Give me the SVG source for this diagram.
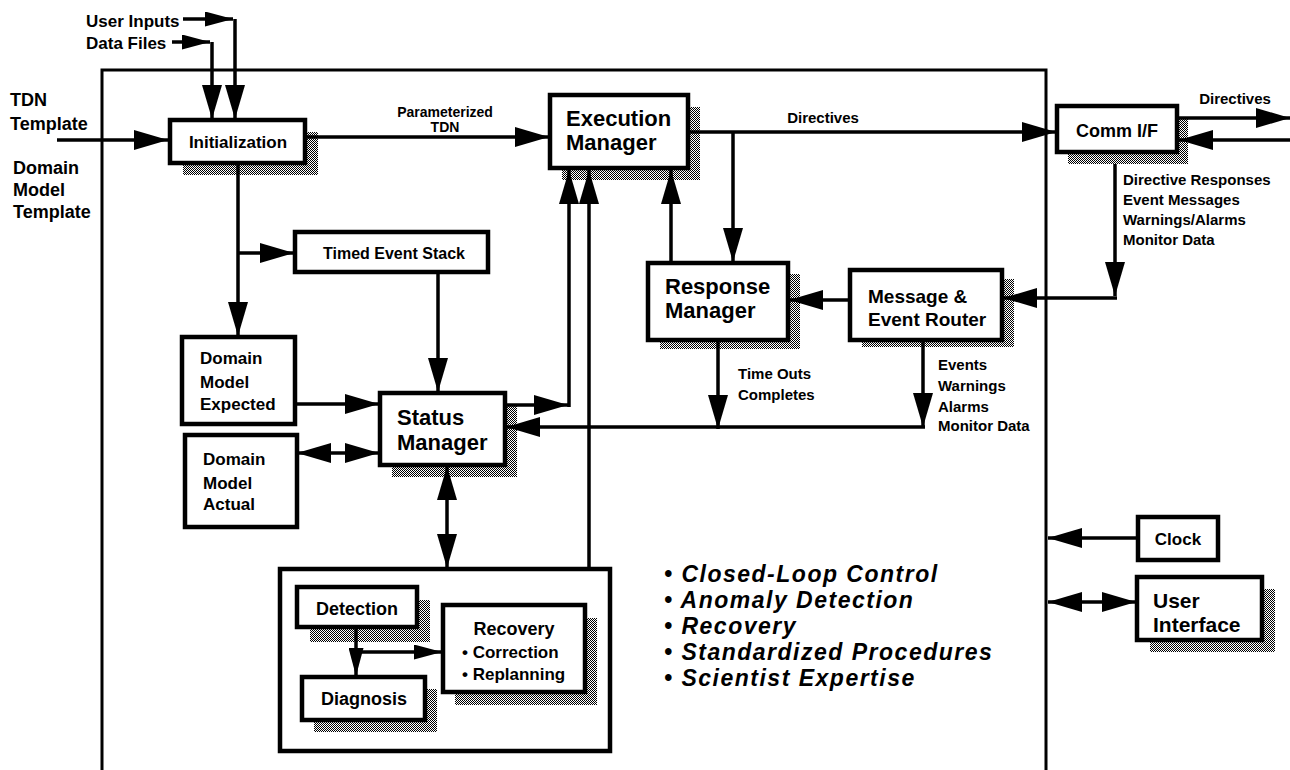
<svg xmlns="http://www.w3.org/2000/svg" width="1290" height="770" viewBox="0 0 1290 770">
<defs>
<pattern id="dots" width="2" height="2" patternUnits="userSpaceOnUse"><rect width="2" height="2" fill="#fff"/><rect width="1" height="1" fill="#000"/><rect x="1" y="1" width="1" height="1" fill="#000"/></pattern>
<marker id="a" viewBox="0 0 34 20" markerWidth="34" markerHeight="20" refX="34" refY="10" orient="auto-start-reverse" markerUnits="userSpaceOnUse"><path d="M0,0 L34,10 L0,20 z" fill="#000"/></marker>
<marker id="s" viewBox="0 0 28 15" markerWidth="28" markerHeight="15" refX="28" refY="7.5" orient="auto-start-reverse" markerUnits="userSpaceOnUse"><path d="M0,0 L28,7.5 L0,15 z" fill="#000"/></marker>
<style>
.box{fill:#fff;stroke:#000;stroke-width:4.5}
.sh{fill:url(#dots)}
.ln{fill:none;stroke:#000;stroke-width:3.5}
.ar{marker-end:url(#a)}
.ars{marker-end:url(#s)}
.dbl{marker-start:url(#a);marker-end:url(#a)}
.frame{fill:none;stroke:#000;stroke-width:3}
text{font-family:"Liberation Sans",Arial,Helvetica,sans-serif;font-weight:bold;fill:#000}
.m{text-anchor:middle}
.f22{font-size:22px}.f21{font-size:21px}.f19{font-size:19px}.f18{font-size:18px}.f17{font-size:17px}.f16{font-size:16px}.f15{font-size:15px}.f14{font-size:14px}
.big{font-size:23px;font-style:italic;letter-spacing:1.5px}
</style>
</defs>
<rect width="1290" height="770" fill="#fff"/>
<g id="system-frame"><path class="frame" d="M102,770 V70 H1046 V770"/></g>

<g id="initialization"><rect class="sh" x="183" y="132" width="135" height="43"/><rect class="box" x="170" y="120" width="135" height="43"/><text class="f17 m" x="238" y="148">Initialization</text></g>
<g id="execution-manager"><rect class="sh" x="562" y="107" width="138" height="73"/><rect class="box" x="550" y="95" width="138" height="73"/><text class="f22" x="566" y="126">Execution</text><text class="f22" x="566" y="150">Manager</text></g>
<g id="comm-if"><rect class="sh" x="1068" y="118" width="120" height="46"/><rect class="box" x="1057" y="106" width="120" height="46"/><text class="f18 m" x="1117" y="137">Comm I/F</text></g>
<g id="timed-event-stack"><rect class="box" x="295" y="232" width="193" height="40"/><text class="f16 m" x="394" y="259">Timed Event Stack</text></g>
<g id="domain-model-expected"><rect class="box" x="182" y="337" width="113" height="87"/><text class="f17" x="200" y="364">Domain</text><text class="f17" x="200" y="388">Model</text><text class="f17" x="200" y="410">Expected</text></g>
<g id="domain-model-actual"><rect class="box" x="185" y="435" width="112" height="92"/><text class="f17" x="203" y="465">Domain</text><text class="f17" x="203" y="489">Model</text><text class="f17" x="203" y="510">Actual</text></g>
<g id="status-manager"><rect class="sh" x="392" y="405" width="125" height="72"/><rect class="box" x="380" y="393" width="125" height="72"/><text class="f22" x="397" y="425">Status</text><text class="f22" x="397" y="450">Manager</text></g>
<g id="response-manager"><rect class="sh" x="660" y="274" width="140" height="75"/><rect class="box" x="648" y="263" width="140" height="77"/><text class="f22" x="665" y="294">Response</text><text class="f22" x="665" y="318">Manager</text></g>
<g id="message-event-router"><rect class="sh" x="862" y="279" width="152" height="68"/><rect class="box" x="850" y="270" width="152" height="70"/><text class="f19" x="868" y="303">Message &amp;</text><text class="f19" x="868" y="326">Event Router</text></g>
<g id="fdir-container"><rect class="box" x="280" y="569" width="330" height="182"/></g>
<g id="detection"><rect class="sh" x="310" y="600" width="120" height="42"/><rect class="box" x="297" y="587" width="120" height="40"/><text class="f18 m" x="357" y="615">Detection</text></g>
<g id="diagnosis"><rect class="sh" x="314" y="689" width="123" height="43"/><rect class="box" x="302" y="677" width="123" height="43"/><text class="f18 m" x="364" y="705">Diagnosis</text></g>
<g id="recovery"><rect class="sh" x="455" y="618" width="142" height="87"/><rect class="box" x="443" y="605" width="142" height="87"/><text class="f18 m" x="514" y="635">Recovery</text><text class="f17" x="462" y="658">• Correction</text><text class="f17" x="462" y="680">• Replanning</text></g>
<g id="clock"><rect class="box" x="1138" y="517" width="80" height="43"/><text class="f17 m" x="1178" y="545">Clock</text></g>
<g id="user-interface"><rect class="sh" x="1150" y="589" width="125" height="63"/><rect class="box" x="1137" y="577" width="125" height="63"/><text class="f21" x="1153" y="608">User</text><text class="f21" x="1153" y="632">Interface</text></g>

<g id="connectors">
<path class="ln ars" d="M183,19 H233"/>
<path class="ln ar" d="M235,19 V119"/>
<path class="ln ars" d="M172,42 H210"/>
<path class="ln ar" d="M212,42 V119"/>
<path class="ln ar" d="M57,140 H168"/>
<path class="ln ar" d="M305,137 H549"/>
<path class="ln ar" d="M688,132 H1056"/>
<path class="ln ar" d="M733,132 V262"/>
<path class="ln ar" d="M671,263 V170"/>
<path class="ln ar" d="M1177,118 H1290"/>
<path class="ln ar" d="M1290,140 H1179"/>
<path class="ln ar" d="M1115,164 V296"/>
<path class="ln ar" d="M1117,298 H1003"/>
<path class="ln ar" d="M850,300 H789"/>
<path class="ln ar" d="M923,340 V427"/>
<path class="ln ar" d="M925,427 H506"/>
<path class="ln ar" d="M718,340 V429"/>
<path class="ln ar" d="M238,163 V336"/>
<path class="ln ar" d="M238,253 H294"/>
<path class="ln ar" d="M438,272 V392"/>
<path class="ln ar" d="M295,404 H379"/>
<path class="ln dbl" d="M297,453 H379"/>
<path class="ln ar" d="M505,405 H568"/>
<path class="ln ar" d="M569,407 V170"/>
<path class="ln ar" d="M589,568 V170"/>
<path class="ln dbl" d="M447,466 V568"/>
<path class="ln ars" d="M356,627 V676"/>
<path class="ln ars" d="M356,652 H442"/>
<path class="ln ar" d="M1138,538 H1048"/>
<path class="ln dbl" d="M1048,602 H1136"/>
</g>

<g id="labels">
<text class="f17" x="86" y="27">User Inputs</text>
<text class="f17" x="86" y="49">Data Files</text>
<text class="f18" x="10" y="106">TDN</text>
<text class="f18" x="10" y="130">Template</text>
<text class="f18" x="13" y="174">Domain</text>
<text class="f18" x="13" y="196">Model</text>
<text class="f18" x="13" y="218">Template</text>
<text class="f14 m" x="445" y="117">Parameterized</text>
<text class="f14 m" x="445" y="132">TDN</text>
<text class="f15 m" x="823" y="123">Directives</text>
<text class="f15 m" x="1235" y="104">Directives</text>
<text class="f15" x="1123" y="185">Directive Responses</text>
<text class="f15" x="1123" y="205">Event Messages</text>
<text class="f15" x="1123" y="225">Warnings/Alarms</text>
<text class="f15" x="1123" y="245">Monitor Data</text>
<text class="f15" x="738" y="379">Time Outs</text>
<text class="f15" x="738" y="400">Completes</text>
<text class="f15" x="938" y="370">Events</text>
<text class="f15" x="938" y="391">Warnings</text>
<text class="f15" x="938" y="412">Alarms</text>
<text class="f15" x="938" y="431">Monitor Data</text>
<text class="big" x="664" y="582">• Closed-Loop Control</text>
<text class="big" x="664" y="608">• Anomaly Detection</text>
<text class="big" x="664" y="634">• Recovery</text>
<text class="big" x="664" y="660">• Standardized Procedures</text>
<text class="big" x="664" y="686">• Scientist Expertise</text>
</g>
</svg>
